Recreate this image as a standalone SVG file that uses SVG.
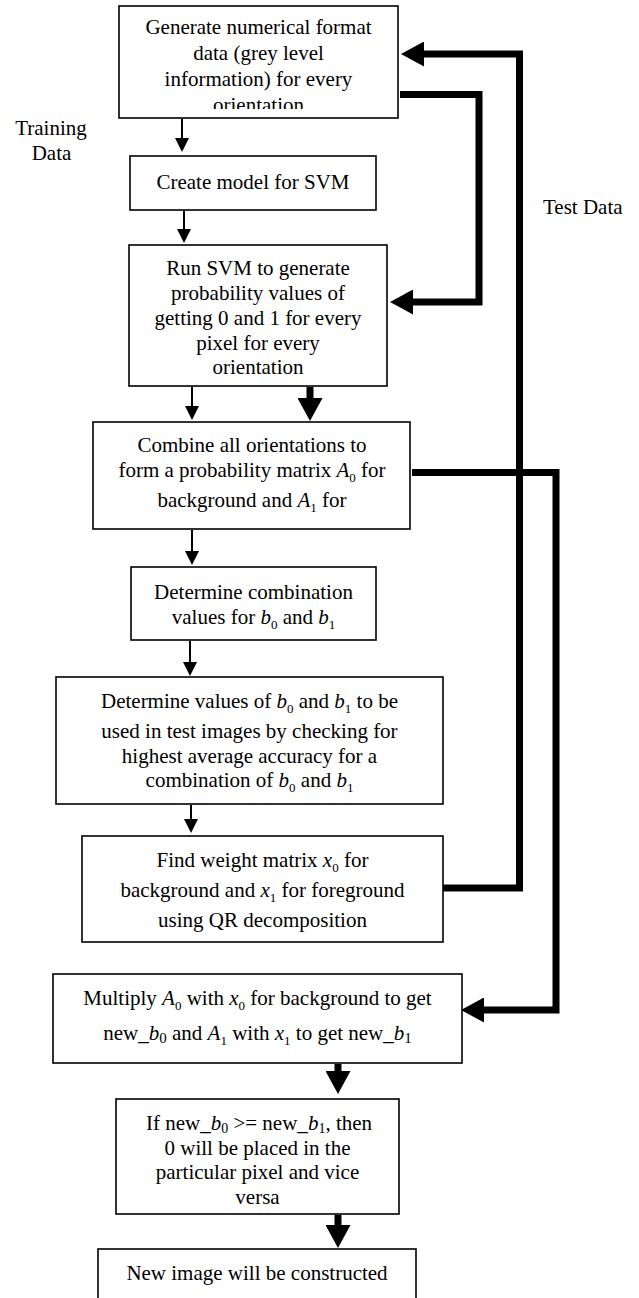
<svg xmlns="http://www.w3.org/2000/svg" width="639" height="1298" viewBox="0 0 639 1298">
<style>
.box{fill:#fff;stroke:#000;stroke-width:1.6}
.t{font-family:"Liberation Serif","Times New Roman",serif;font-size:21px;fill:#000;text-anchor:middle}
.l{font-family:"Liberation Serif","Times New Roman",serif;font-size:21px;fill:#000}
.i{font-style:italic}
.thin{fill:none;stroke:#000;stroke-width:2}
.thick{fill:none;stroke:#000;stroke-width:7;stroke-linejoin:miter;stroke-linecap:butt}
</style>
<defs>
<marker id="ah" markerUnits="userSpaceOnUse" markerWidth="14" markerHeight="14" refX="4" refY="7" orient="auto">
<path d="M0,0 L14,7 L0,14 z" fill="#000"/>
</marker>
<marker id="ahb" markerUnits="userSpaceOnUse" markerWidth="23" markerHeight="25" refX="8" refY="12.5" orient="auto">
<path d="M0,0 L23,12.5 L0,25 z" fill="#000"/>
</marker>
<clipPath id="c1"><rect x="119" y="6" width="279" height="103"/></clipPath>
</defs>
<rect width="639" height="1298" fill="#fff"/>

<g id="connectors">
<line class="thin" x1="182" y1="119" x2="182" y2="142" marker-end="url(#ah)"/>
<line class="thin" x1="184" y1="211" x2="184" y2="233" marker-end="url(#ah)"/>
<line class="thin" x1="192" y1="387" x2="192" y2="410" marker-end="url(#ah)"/>
<line class="thick" x1="310" y1="387" x2="310" y2="406" marker-end="url(#ahb)"/>
<line class="thin" x1="192" y1="530" x2="192" y2="555" marker-end="url(#ah)"/>
<line class="thin" x1="190" y1="641" x2="190" y2="666" marker-end="url(#ah)"/>
<line class="thin" x1="191" y1="805" x2="191" y2="823" marker-end="url(#ah)"/>
<line class="thick" x1="338" y1="1064" x2="338" y2="1079" marker-end="url(#ahb)"/>
<line class="thick" x1="338" y1="1215" x2="338" y2="1233" marker-end="url(#ahb)"/>
<path class="thick" d="M400,94.5 H479 V302 H405" marker-end="url(#ahb)"/>
<path class="thick" d="M443,888 H519.5 V54 H416" marker-end="url(#ahb)"/>
<path class="thick" d="M412,472.5 H556 V1010 H476" marker-end="url(#ahb)"/>
</g>

<g id="n1">
<rect class="box" x="119" y="6" width="279" height="112"/>
<g clip-path="url(#c1)">
<text class="t" x="258.5" y="34">Generate numerical format</text>
<text class="t" x="258.5" y="60">data (grey level</text>
<text class="t" x="258.5" y="86">information) for every</text>
<text class="t" x="258.5" y="112">orientation</text>
</g>
</g>

<g id="n2">
<rect class="box" x="130" y="156" width="246" height="54"/>
<text class="t" x="253" y="189">Create model for SVM</text>
</g>

<g id="n3">
<rect class="box" x="129" y="245" width="258" height="141"/>
<text class="t" x="258" y="275">Run SVM to generate</text>
<text class="t" x="258" y="300">probability values of</text>
<text class="t" x="258" y="325">getting 0 and 1 for every</text>
<text class="t" x="258" y="350">pixel for every</text>
<text class="t" x="258" y="374">orientation</text>
</g>

<g id="n4">
<rect class="box" x="93" y="422" width="317" height="107"/>
<text class="t" x="252" y="452">Combine all orientations to</text>
<text class="t" x="252" y="477">form a probability matrix <tspan class="i">A</tspan><tspan font-size="13" dy="5">0</tspan><tspan dy="-5"> for</tspan></text>
<text class="t" x="252" y="507">background and <tspan class="i">A</tspan><tspan font-size="13" dy="5">1</tspan><tspan dy="-5"> for</tspan></text>
</g>

<g id="n5">
<rect class="box" x="131" y="567" width="245" height="73"/>
<text class="t" x="253.5" y="599">Determine combination</text>
<text class="t" x="253.5" y="624">values for <tspan class="i">b</tspan><tspan font-size="13" dy="5">0</tspan><tspan dy="-5"> and </tspan><tspan class="i">b</tspan><tspan font-size="13" dy="5">1</tspan></text>
</g>

<g id="n6">
<rect class="box" x="56" y="677" width="387" height="127"/>
<text class="t" x="249.5" y="708">Determine values of <tspan class="i">b</tspan><tspan font-size="13" dy="5">0</tspan><tspan dy="-5"> and </tspan><tspan class="i">b</tspan><tspan font-size="13" dy="5">1</tspan><tspan dy="-5"> to be</tspan></text>
<text class="t" x="249.5" y="738">used in test images by checking for</text>
<text class="t" x="249.5" y="763">highest average accuracy for a</text>
<text class="t" x="249.5" y="787">combination of <tspan class="i">b</tspan><tspan font-size="13" dy="5">0</tspan><tspan dy="-5"> and </tspan><tspan class="i">b</tspan><tspan font-size="13" dy="5">1</tspan></text>
</g>

<g id="n7">
<rect class="box" x="82" y="836" width="361" height="106"/>
<text class="t" x="262.5" y="867">Find weight matrix <tspan class="i">x</tspan><tspan font-size="13" dy="5">0</tspan><tspan dy="-5"> for</tspan></text>
<text class="t" x="262.5" y="897">background and <tspan class="i">x</tspan><tspan font-size="13" dy="5">1</tspan><tspan dy="-5"> for foreground</tspan></text>
<text class="t" x="262.5" y="927">using QR decomposition</text>
</g>

<g id="n8">
<rect class="box" x="53" y="974" width="409" height="89"/>
<text class="t" x="257.5" y="1005">Multiply <tspan class="i">A</tspan><tspan font-size="13" dy="5">0</tspan><tspan dy="-5"> with </tspan><tspan class="i">x</tspan><tspan font-size="13" dy="5">0</tspan><tspan dy="-5"> for background to get</tspan></text>
<text class="t" x="257.5" y="1040">new_<tspan class="i">b</tspan><tspan font-size="15" dy="3">0</tspan><tspan dy="-3"> and </tspan><tspan class="i">A</tspan><tspan font-size="13" dy="5">1</tspan><tspan dy="-5"> with </tspan><tspan class="i">x</tspan><tspan font-size="13" dy="5">1</tspan><tspan dy="-5"> to get new_</tspan><tspan class="i">b</tspan><tspan font-size="15" dy="3">1</tspan></text>
</g>

<g id="n9">
<rect class="box" x="116" y="1099" width="283" height="115"/>
<text class="t" x="259" y="1130">If new_<tspan class="i">b</tspan><tspan font-size="14" dy="3">0</tspan><tspan dy="-3"> &gt;= new_</tspan><tspan class="i">b</tspan><tspan font-size="14" dy="3">1</tspan><tspan dy="-3">, then</tspan></text>
<text class="t" x="257.5" y="1155">0 will be placed in the</text>
<text class="t" x="257.5" y="1179">particular pixel and vice</text>
<text class="t" x="257.5" y="1204">versa</text>
</g>

<g id="n10">
<rect class="box" x="98" y="1249" width="318" height="60"/>
<text class="t" x="257" y="1280">New image will be constructed</text>
</g>

<g id="labels">
<text class="t" x="51" y="135">Training</text>
<text class="t" x="51.5" y="160">Data</text>
<text class="l" x="543" y="214">Test Data</text>
</g>
</svg>
